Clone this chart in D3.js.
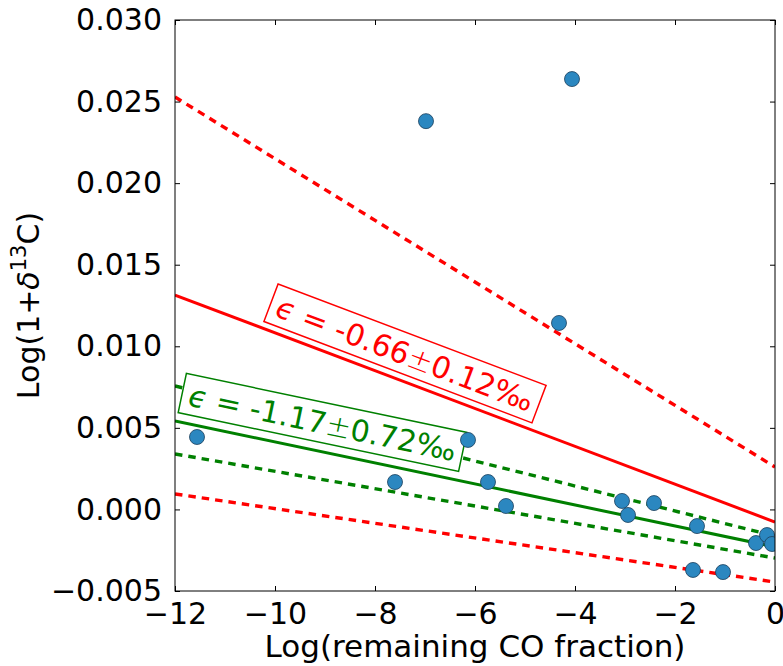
<!doctype html>
<html lang="en">
<head>
    <meta charset="utf-8"/>
    <title>CO fractionation</title>
    <style>
        body { margin: 0; background: #fff; }
        svg { display: block; font-family: "DejaVu Sans", sans-serif; }
    </style>
</head>
<body>
    <svg id="chart"></svg>
    <script src="https://d3js.org/d3.v7.min.js"></script>
    <script>
        // measured points
        const logFrac = [-11.56, -6.98, -4.06, -4.32, -6.14, -7.6, -5.74, -5.38, -3.06, -2.94, -2.42, -1.56, -0.38, -0.16, -0.06, -1.64, -1.04];
        const logDelta = [0.00444, 0.0238, 0.02638, 0.01143, 0.00426, 0.00168, 0.00168, 0.00021, 0.00052, -0.00034, 0.00039, -0.00102, -0.00206, -0.00157, -0.00212, -0.00371, -0.00384];

        // fit lines: value at x=-12 and at x=0
        const lineColor = ["red", "red", "red", "green", "green", "green"];
        const lineDashed = [false, true, true, false, true, true];
        const lineAtLeft = [0.01314, 0.02528, 0.00095, 0.00542, 0.00757, 0.0034];
        const lineAtRight = [-0.00077, 0.0026, -0.00445, -0.0023, -0.00163, -0.00298];

        // boxed labels (center in data coords, follows its solid line)
        const labelText = ["-0.66", "-1.17"];
        const labelErr = ["0.12", "0.72"];
        const labelColor = ["red", "green"];
        const labelX = [-7.4, -9.05];
        const labelY = [0.00956, 0.00533];
        const labelLine = [0, 3];

        const xTicks = [-12, -10, -8, -6, -4, -2, 0];
        const yTicks = [-0.005, 0, 0.005, 0.010, 0.015, 0.020, 0.025, 0.030];

        const width = 783, height = 666;
        const margin = {top: 20, right: 8, bottom: 75, left: 175};

        const svg = d3.select("#chart")
            .attr("width", width)
            .attr("height", height);

        const x = d3.scaleLinear().domain([-12, 0]).range([margin.left, width - margin.right]);
        const y = d3.scaleLinear().domain([-0.005, 0.030]).range([height - margin.bottom, margin.top]);

        svg.append("defs").append("clipPath").attr("id", "clip")
            .append("rect")
            .attr("x", x(-12)).attr("y", y(0.030))
            .attr("width", x(0) - x(-12)).attr("height", y(-0.005) - y(0.030));

        const plot = svg.append("g").attr("clip-path", "url(#clip)");

        // lines
        plot.selectAll("line.fit")
            .data(lineAtLeft)
            .join("line")
            .attr("class", "fit")
            .attr("x1", x(-12))
            .attr("y1", d => y(d))
            .attr("x2", x(0))
            .attr("y2", (d, i) => y(lineAtRight[i]))
            .attr("stroke", (d, i) => lineColor[i])
            .attr("stroke-width", (d, i) => lineDashed[i] ? 3.4 : 3)
            .attr("stroke-dasharray", (d, i) => lineDashed[i] ? "7.5,6" : null);

        // labels
        labelText.forEach((t, i) => {
            const li = labelLine[i];
            const ang = Math.atan2(y(lineAtRight[li]) - y(lineAtLeft[li]), x(0) - x(-12)) * 180 / Math.PI;
            const g = plot.append("g")
                .attr("transform", `translate(${x(labelX[i])},${y(labelY[i])}) rotate(${ang})`);
            const rect = g.append("rect");
            const txt = g.append("text")
                .attr("font-size", 30)
                .attr("fill", labelColor[i])
                .attr("text-anchor", "middle")
                .attr("y", 11);
            txt.append("tspan").attr("font-style", "italic").text("\u03f5");
            txt.append("tspan").text(" = " + t);
            txt.append("tspan").attr("font-weight", "200").text("\u00b1");
            txt.append("tspan").text(labelErr[i] + "\u2030");
            const w = txt.node().getComputedTextLength() + 14;
            rect.attr("x", -w / 2).attr("y", -20)
                .attr("width", w).attr("height", 40)
                .attr("fill", "white")
                .attr("stroke", labelColor[i])
                .attr("stroke-width", 1.5);
        });

        // points
        plot.selectAll("circle")
            .data(logFrac)
            .join("circle")
            .attr("cx", d => x(d))
            .attr("cy", (d, i) => y(logDelta[i]))
            .attr("r", 7.5)
            .attr("fill", "#2b87c0")
            .attr("stroke", "#1b3f5c")
            .attr("stroke-width", 0.8);

        // axes frame and inward ticks (classic style)
        const fmtX = d => d < 0 ? "\u2212" + Math.abs(d) : String(d);
        const fmtY = d => (d < 0 ? "\u2212" : "") + d3.format(".3f")(Math.abs(d));

        svg.append("g")
            .attr("transform", `translate(0,${y(-0.005)})`)
            .call(d3.axisBottom(x).tickValues(xTicks).tickFormat(fmtX).tickSizeInner(-5).tickSizeOuter(0).tickPadding(12))
            .call(g => g.select(".domain").remove())
            .call(g => g.selectAll("text").attr("font-size", 30).attr("font-family", "DejaVu Sans").attr("fill", "black"));

        svg.append("g")
            .attr("transform", `translate(0,${y(0.030)})`)
            .call(d3.axisTop(x).tickValues(xTicks).tickFormat("").tickSizeInner(-5).tickSizeOuter(0))
            .call(g => g.select(".domain").remove());

        svg.append("g")
            .attr("transform", `translate(${x(-12)},0)`)
            .call(d3.axisLeft(y).tickValues(yTicks).tickFormat(fmtY).tickSizeInner(-5).tickSizeOuter(0).tickPadding(13))
            .call(g => g.select(".domain").remove())
            .call(g => g.selectAll("text").attr("font-size", 30).attr("font-family", "DejaVu Sans").attr("fill", "black"));

        svg.append("g")
            .attr("transform", `translate(${x(0)},0)`)
            .call(d3.axisRight(y).tickValues(yTicks).tickFormat("").tickSizeInner(-5).tickSizeOuter(0))
            .call(g => g.select(".domain").remove());

        svg.append("rect")
            .attr("x", x(-12)).attr("y", y(0.030))
            .attr("width", x(0) - x(-12)).attr("height", y(-0.005) - y(0.030))
            .attr("fill", "none")
            .attr("stroke", "black")
            .attr("stroke-width", 1);

        // axis titles
        svg.append("text")
            .attr("x", (x(-12) + x(0)) / 2)
            .attr("y", 657)
            .attr("text-anchor", "middle")
            .attr("font-size", 31)
            .text("Log(remaining CO fraction)");

        const yl = svg.append("text")
            .attr("transform", `translate(39,${(y(-0.005) + y(0.030)) / 2}) rotate(-90)`)
            .attr("text-anchor", "middle")
            .attr("font-size", 30);
        yl.append("tspan").text("Log(1+");
        yl.append("tspan").attr("font-style", "italic").text("\u03b4");
        yl.append("tspan").attr("font-size", 21).attr("dy", -13).text("13");
        yl.append("tspan").attr("dy", 13).text("C)");
    </script>
</body>
</html>
